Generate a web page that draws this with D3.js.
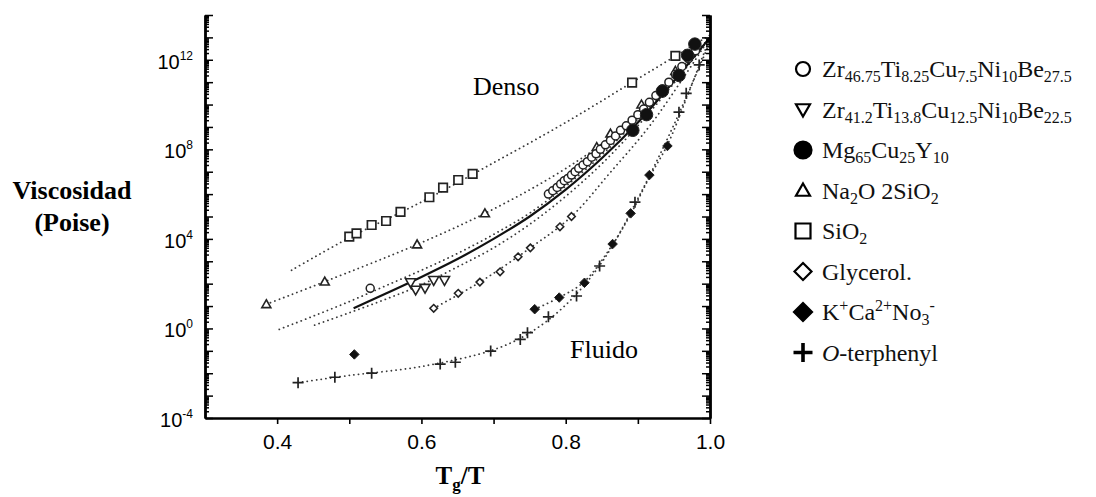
<!DOCTYPE html>
<html>
<head>
<meta charset="utf-8">
<script src="https://cdn.jsdelivr.net/npm/d3@7/dist/d3.min.js"></script>
<style>
  body { margin: 0; background: #fff; }
  svg { display: block; }
</style>
</head>
<body>
<svg id="chart" width="1096" height="497"></svg>
<script>
// points are [Tg/T, log10(viscosity in Poise)]
var zr46Pts = [[0.529, 1.79], [0.776, 6.0], [0.782, 6.15], [0.788, 6.3], [0.793, 6.45], [0.798, 6.6],
    [0.803, 6.7], [0.808, 6.85], [0.813, 7.0], [0.818, 7.15], [0.824, 7.3], [0.830, 7.45],
    [0.836, 7.65], [0.842, 7.8], [0.848, 8.0], [0.855, 8.2], [0.862, 8.4], [0.869, 8.6],
    [0.876, 8.85], [0.884, 9.05], [0.892, 9.3], [0.900, 9.55], [0.908, 9.8], [0.916, 10.1],
    [0.925, 10.4], [0.934, 10.7], [0.943, 11.0], [0.952, 11.35], [0.961, 11.7], [0.970, 12.05], [0.980, 12.4]];
var zr41Pts = [[0.585, 2.05], [0.592, 1.72], [0.605, 1.8], [0.617, 2.15], [0.632, 2.15]];
var mgPts = [[0.893, 8.85], [0.912, 9.55], [0.934, 10.6], [0.957, 11.3], [0.969, 12.2], [0.979, 12.7]];
var na2oPts = [[0.385, 1.08], [0.466, 2.09], [0.594, 3.75], [0.688, 5.14], [0.843, 8.1], [0.862, 8.7], [0.905, 10.0], [0.952, 11.5]];
var sio2Pts = [[0.500, 4.10], [0.510, 4.25], [0.531, 4.62], [0.551, 4.80], [0.571, 5.21], [0.611, 5.86],
    [0.630, 6.29], [0.651, 6.63], [0.671, 6.90], [0.892, 10.98], [0.952, 12.17]];
var glyPts = [[0.617, 0.9], [0.651, 1.57], [0.681, 2.07], [0.709, 2.53], [0.734, 3.2], [0.751, 3.6], [0.792, 4.54], [0.808, 5.0]];
var kPts = [[0.507, -1.16], [0.757, 0.86], [0.791, 1.38], [0.826, 2.04], [0.865, 3.77], [0.890, 5.14], [0.916, 6.85], [0.941, 8.15]];
var otpPts = [[0.429, -2.42], [0.480, -2.18], [0.531, -2.0], [0.626, -1.59], [0.647, -1.51], [0.696, -1.01],
    [0.737, -0.49], [0.747, -0.19], [0.776, 0.52], [0.815, 1.45], [0.847, 2.79], [0.896, 5.64],
    [0.957, 9.66], [0.967, 10.5], [0.985, 11.77]];

// fitted curves (dotted), plus the solid one
var sio2Fit = [[0.42, 2.6], [0.5, 4.05], [0.6, 5.65], [0.7, 7.4], [0.8, 9.2], [0.9, 11.15], [1.0, 13.1]];
var na2oFit = [[0.385, 1.08], [0.466, 2.09], [0.594, 3.75], [0.688, 5.14], [0.78, 6.75], [0.85, 8.25], [0.92, 10.3], [1.0, 13.0]];
var upperFit = [[0.403, -0.04], [0.45, 0.55], [0.5, 1.2], [0.55, 1.9], [0.6, 2.6], [0.65, 3.35], [0.7, 4.2],
    [0.75, 5.15], [0.8, 6.35], [0.85, 7.75], [0.9, 9.35], [0.95, 11.1], [1.0, 13.0]];
var lowerFit = [[0.452, 0.15], [0.5, 0.7], [0.55, 1.3], [0.6, 1.95], [0.65, 2.75], [0.7, 3.6], [0.75, 4.65],
    [0.8, 5.9], [0.85, 7.35], [0.9, 9.05], [0.95, 10.95], [1.0, 13.0]];
var solidFit = [[0.506, 0.9], [0.55, 1.55], [0.6, 2.3], [0.65, 3.1], [0.7, 4.0], [0.75, 5.0], [0.8, 6.2],
    [0.85, 7.6], [0.9, 9.2], [0.95, 11.05], [1.0, 13.0]];
var glyFit = [[0.617, 0.9], [0.681, 2.07], [0.751, 3.6], [0.808, 5.0], [0.86, 6.9], [0.92, 9.2], [1.0, 13.0]];
var kFit = [[0.757, 0.86], [0.791, 1.38], [0.826, 2.1], [0.865, 3.75], [0.89, 5.1], [0.916, 6.75], [0.941, 8.2], [0.97, 10.5], [1.0, 13.0]];
var otpFit = [[0.429, -2.42], [0.5, -2.1], [0.6, -1.7], [0.7, -0.95], [0.75, -0.2], [0.8, 1.05], [0.85, 2.95],
    [0.9, 5.8], [0.95, 9.1], [1.0, 12.8]];

var xTicks = [0.4, 0.5, 0.6, 0.7, 0.8, 0.9, 1.0];
var xLabels = [0.4, 0.6, 0.8, 1.0];
var yLabelExps = [-4, 0, 4, 8, 12];

var legendLabels = [
    [['Zr'], ['46.75', 'sub'], ['Ti'], ['8.25', 'sub'], ['Cu'], ['7.5', 'sub'], ['Ni'], ['10', 'sub'], ['Be'], ['27.5', 'sub']],
    [['Zr'], ['41.2', 'sub'], ['Ti'], ['13.8', 'sub'], ['Cu'], ['12.5', 'sub'], ['Ni'], ['10', 'sub'], ['Be'], ['22.5', 'sub']],
    [['Mg'], ['65', 'sub'], ['Cu'], ['25', 'sub'], ['Y'], ['10', 'sub']],
    [['Na'], ['2', 'sub'], ['O 2SiO'], ['2', 'sub']],
    [['SiO'], ['2', 'sub']],
    [['Glycerol.']],
    [['K'], ['+', 'sup'], ['Ca'], ['2+', 'sup'], ['No'], ['3', 'sub'], ['-', 'sup']],
    [['O', 'it'], ['-terphenyl']]
];
var legendMarks = ['circle', 'down', 'dot', 'up', 'square', 'diamond', 'fdiamond', 'plus'];

var svg = d3.select('#chart');

var x = d3.scaleLinear().domain([0.3, 1.0]).range([205, 710]);
var y = d3.scaleLog().domain([1e-4, 1e14]).range([418, 15]);
var py = v => y(Math.pow(10, v));

// fit lines
var line = d3.line()
    .x(d => x(d[0]))
    .y(d => py(d[1]))
    .curve(d3.curveCatmullRom.alpha(0.5));

[sio2Fit, na2oFit, upperFit, lowerFit, glyFit, kFit, otpFit].forEach(f => {
    svg.append('path')
        .attr('d', line(f))
        .attr('fill', 'none')
        .attr('stroke', '#3a3a3a')
        .attr('stroke-width', 1.8)
        .attr('stroke-linecap', 'round')
        .attr('stroke-dasharray', '0.1 4.6');
});

svg.append('path')
    .attr('d', line(solidFit))
    .attr('fill', 'none')
    .attr('stroke', '#111')
    .attr('stroke-width', 2.2);

// marker drawing
const markPath = (type, s) => {
    var h = s / 2;
    if (type === 'square') return d3.symbol(d3.symbolSquare, s * s)();
    if (type === 'up') return 'M0,' + (-h) + 'L' + h + ',' + (h * 0.75) + 'L' + (-h) + ',' + (h * 0.75) + 'Z';
    if (type === 'down') return 'M0,' + h + 'L' + h + ',' + (-h * 0.75) + 'L' + (-h) + ',' + (-h * 0.75) + 'Z';
    if (type === 'diamond' || type === 'fdiamond') return 'M0,' + (-h) + 'L' + h + ',0L0,' + h + 'L' + (-h) + ',0Z';
    if (type === 'plus') return 'M' + (-h) + ',0H' + h + 'M0,' + (-h) + 'V' + h;
    return d3.symbol(d3.symbolCircle, Math.PI * h * h)();
};

const drawMarks = (cls, pts, type, size, sw) => {
    var filled = type === 'dot' || type === 'fdiamond';
    svg.append('g').attr('class', cls)
        .selectAll('path')
        .data(pts)
        .enter().append('path')
        .attr('transform', d => 'translate(' + x(d[0]) + ',' + py(d[1]) + ')')
        .attr('d', markPath(type, size))
        .attr('fill', filled ? '#111' : (type === 'plus' ? 'none' : '#fff'))
        .attr('stroke', '#222')
        .attr('stroke-width', sw);
};

drawMarks('sio2', sio2Pts, 'square', 8.5, 1.7);
drawMarks('na2o', na2oPts, 'up', 9, 1.6);
drawMarks('gly', glyPts, 'diamond', 7.5, 1.6);
drawMarks('zr46', zr46Pts, 'circle', 8, 1.5);
drawMarks('zr41', zr41Pts, 'down', 10, 1.6);
drawMarks('mg', mgPts, 'dot', 12.5, 1);
drawMarks('k', kPts, 'fdiamond', 9.5, 1);
drawMarks('otp', otpPts, 'plus', 11, 1.7);

// axes
var tickFont = "'Liberation Sans', Arial, sans-serif";
var majors = d3.range(-4, 15).map(e => Math.pow(10, e));
var minors = [];
d3.range(-4, 14).forEach(e => {
    [2, 3, 4, 5, 6, 7, 8, 9].forEach(m => minors.push(m * Math.pow(10, e)));
});

const yAxis = (gen, xpos, vals, len) => {
    var g = svg.append('g')
        .attr('transform', 'translate(' + xpos + ',0)')
        .call(gen(y).tickValues(vals).tickSize(len).tickSizeOuter(0).tickFormat(''));
    g.selectAll('line').attr('stroke', '#000').attr('stroke-width', 1.5);
    g.select('.domain').attr('stroke', '#000').attr('stroke-width', 2.4);
};
yAxis(d3.axisLeft, 205, minors, -4);
yAxis(d3.axisLeft, 205, majors, -8);
yAxis(d3.axisRight, 710, minors, -4);
yAxis(d3.axisRight, 710, majors, -8);

var xg = svg.append('g')
    .attr('transform', 'translate(0,418)')
    .call(d3.axisBottom(x).tickValues(xTicks).tickSize(6).tickSizeOuter(0)
        .tickFormat(d => xLabels.indexOf(d) >= 0 ? d3.format('.1f')(d) : ''));
xg.select('.domain').attr('stroke', '#000').attr('stroke-width', 2.4);
xg.selectAll('line').attr('stroke', '#000').attr('stroke-width', 1.6);
xg.selectAll('text')
    .attr('font-family', tickFont)
    .attr('font-size', 21)
    .attr('fill', '#000')
    .attr('dy', '1.05em');

// y tick labels 10^n
var yl = svg.append('g').selectAll('text')
    .data(yLabelExps)
    .enter().append('text')
    .attr('x', 193)
    .attr('y', d => py(d) + 9)
    .attr('text-anchor', 'end')
    .attr('font-family', tickFont)
    .attr('font-size', 20)
    .attr('fill', '#000');
yl.append('tspan').text('10');
yl.append('tspan').attr('dy', -9).attr('font-size', 12).text(d => String(d));

// text in the plot
var serif = "'Liberation Serif', 'Times New Roman', serif";
svg.append('text').attr('x', 473).attr('y', 95)
    .attr('font-family', serif).attr('font-size', 26).text('Denso');
svg.append('text').attr('x', 570).attr('y', 358)
    .attr('font-family', serif).attr('font-size', 26).text('Fluido');

// axis titles
svg.append('text').attr('x', 72).attr('y', 199).attr('text-anchor', 'middle')
    .attr('font-family', serif).attr('font-size', 26).attr('font-weight', 'bold').text('Viscosidad');
svg.append('text').attr('x', 72).attr('y', 231).attr('text-anchor', 'middle')
    .attr('font-family', serif).attr('font-size', 26).attr('font-weight', 'bold').text('(Poise)');

var xt = svg.append('text').attr('x', 460).attr('y', 484).attr('text-anchor', 'middle')
    .attr('font-family', serif).attr('font-size', 25).attr('font-weight', 'bold');
xt.append('tspan').text('T');
xt.append('tspan').attr('dy', 6).attr('font-size', 17).text('g');
xt.append('tspan').attr('dy', -6).text('/T');

// legend
var lg = svg.append('g').attr('class', 'legend');
legendLabels.forEach((parts, i) => {
    var cy = 69 + i * 40.5;
    var type = legendMarks[i];
    var filled = type === 'dot' || type === 'fdiamond';
    var size = {circle: 14, down: 14, dot: 17, up: 14, square: 15, diamond: 17, fdiamond: 18, plus: 19}[type];
    lg.append('path')
        .attr('transform', 'translate(803,' + cy + ')')
        .attr('d', markPath(type, size))
        .attr('fill', filled ? '#000' : (type === 'plus' ? 'none' : '#fff'))
        .attr('stroke', '#000')
        .attr('stroke-width', type === 'plus' ? 3.6 : 2.2);

    var t = lg.append('text')
        .attr('x', 822)
        .attr('y', cy + 8)
        .attr('font-family', serif)
        .attr('font-size', 24)
        .attr('fill', '#111');
    var shift = 0;
    parts.forEach(p => {
        var want = p[1] === 'sub' ? 5 : (p[1] === 'sup' ? -9 : 0);
        var ts = t.append('tspan').attr('dy', want - shift).text(p[0]);
        if (p[1] === 'sub' || p[1] === 'sup') ts.attr('font-size', 16);
        if (p[1] === 'it') ts.attr('font-style', 'italic');
        shift = want;
    });
});
</script>
</body>
</html>
